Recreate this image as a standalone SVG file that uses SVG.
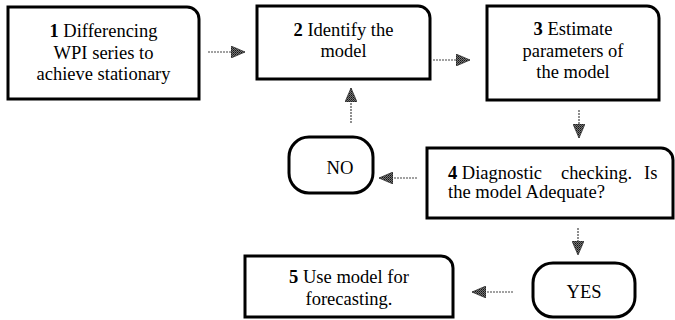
<svg xmlns="http://www.w3.org/2000/svg" width="675" height="320" viewBox="0 0 675 320">
<defs>
<pattern id="hatch" width="2" height="2" patternUnits="userSpaceOnUse">
<rect width="2" height="2" fill="#777"/>
<rect width="1" height="1" fill="#111"/>
<rect x="1" y="1" width="1" height="1" fill="#333"/>
</pattern>
<marker id="ah" viewBox="0 0 14 12" refX="14" refY="6" markerWidth="14" markerHeight="12" markerUnits="userSpaceOnUse" orient="auto">
<path d="M0,0 L14,6 L0,12 z" fill="url(#hatch)" stroke="#333" stroke-width="0.8"/>
</marker>
</defs>
<style>
.box{fill:#fff;stroke:#000;stroke-width:3}
text{font-family:'Liberation Serif',Tinos,'Times New Roman',Times,'Nimbus Roman','Nimbus Roman No9 L',FreeSerif,'TeX Gyre Termes','DejaVu Serif','Noto Serif',serif;font-size:18.5px;fill:#000}
.c{text-anchor:middle}
.b{font-weight:bold}
.conn{stroke:#444;stroke-width:1.2;stroke-dasharray:2 1;fill:none;marker-end:url(#ah)}
</style>
<g id="connectors">
<line class="conn" x1="208" y1="52" x2="245" y2="52"/>
<line class="conn" x1="433" y1="60" x2="470" y2="60"/>
<line class="conn" x1="579" y1="110" x2="579" y2="138"/>
<line class="conn" x1="417" y1="178" x2="379" y2="178"/>
<line class="conn" x1="351" y1="123" x2="351" y2="88"/>
<line class="conn" x1="578" y1="228" x2="578" y2="255"/>
<line class="conn" x1="513" y1="292" x2="472" y2="292"/>
</g>
<g id="node1">
<path class="box" d="M8,7 H187 A12,12 0 0 1 199,19 V99 H8 Z"/>
<text class="c" x="103.5" y="37" textLength="108" lengthAdjust="spacingAndGlyphs"><tspan class="b">1</tspan> Differencing</text>
<text class="c" x="103.5" y="58.5" textLength="100" lengthAdjust="spacingAndGlyphs">WPI series to</text>
<text class="c" x="103.5" y="80" textLength="134" lengthAdjust="spacingAndGlyphs">achieve stationary</text>
</g>
<g id="node2">
<path class="box" d="M257,6 H418 A12,12 0 0 1 430,18 V79 H257 Z"/>
<text class="c" x="343.5" y="36" textLength="100" lengthAdjust="spacingAndGlyphs"><tspan class="b">2</tspan> Identify the</text>
<text class="c" x="343.5" y="57" textLength="46" lengthAdjust="spacingAndGlyphs">model</text>
</g>
<g id="node3">
<path class="box" d="M487,6 H647 A12,12 0 0 1 659,18 V100 H487 Z"/>
<text class="c" x="573" y="35" textLength="79" lengthAdjust="spacingAndGlyphs"><tspan class="b">3</tspan> Estimate</text>
<text class="c" x="573" y="57" textLength="101" lengthAdjust="spacingAndGlyphs">parameters of</text>
<text class="c" x="573" y="78" textLength="73.5" lengthAdjust="spacingAndGlyphs">the model</text>
</g>
<g id="node4">
<path class="box" d="M427,148 H661 A12,12 0 0 1 673,160 V218 H427 Z"/>
<text x="448" y="179" textLength="94" lengthAdjust="spacingAndGlyphs"><tspan class="b">4</tspan> Diagnostic</text>
<text x="561" y="179" textLength="71" lengthAdjust="spacingAndGlyphs">checking.</text>
<text x="644" y="179" textLength="13.4" lengthAdjust="spacingAndGlyphs">Is</text>
<text x="448" y="198" textLength="157" lengthAdjust="spacingAndGlyphs">the model Adequate?</text>
</g>
<g id="nodeNO">
<rect class="box" x="289" y="137" width="84" height="56" rx="20" ry="20"/>
<text class="c" x="340" y="174" textLength="27" lengthAdjust="spacingAndGlyphs">NO</text>
</g>
<g id="nodeYES">
<rect class="box" x="533" y="263" width="102" height="54" rx="20" ry="20"/>
<text class="c" x="584" y="298" textLength="35" lengthAdjust="spacingAndGlyphs">YES</text>
</g>
<g id="node5">
<path class="box" d="M245,256 H441 A12,12 0 0 1 453,268 V317 H245 Z"/>
<text class="c" x="349" y="283" textLength="120" lengthAdjust="spacingAndGlyphs"><tspan class="b">5</tspan> Use model for</text>
<text class="c" x="349" y="305" textLength="87" lengthAdjust="spacingAndGlyphs">forecasting.</text>
</g>
</svg>
